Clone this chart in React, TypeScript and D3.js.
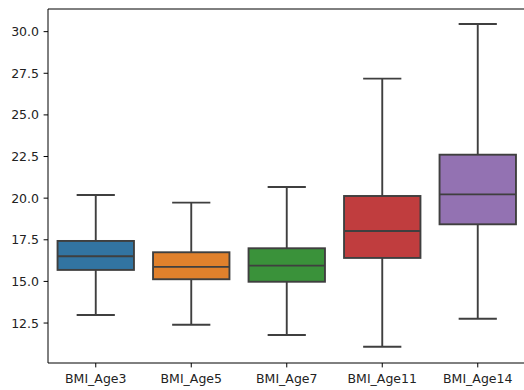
import React from "react";
import * as d3 from "d3";

const categories = ["BMI_Age3", "BMI_Age5", "BMI_Age7", "BMI_Age11", "BMI_Age14"];
const whiskerLow = [12.98, 12.4, 11.78, 11.08, 12.76];
const q1 = [15.69, 15.13, 14.98, 16.41, 18.43];
const median = [16.51, 15.87, 15.95, 18.03, 20.23];
const q3 = [17.43, 16.75, 16.99, 20.13, 22.61];
const whiskerHigh = [20.19, 19.73, 20.67, 27.18, 30.46];
const colors = ["#3274a1", "#e1812c", "#3a923a", "#c03d3e", "#9372b2"];
const yTicks = [12.5, 15.0, 17.5, 20.0, 22.5, 25.0, 27.5, 30.0];
const yDomain = [10.1, 31.36];

const W = 524;
const H = 390;
const left = 48;
const right = 525.5;
const top = 9;
const bottom = 363;
const font = "DejaVu Sans, sans-serif";
const edge = "#3f3f3f";

export default function App() {
  const x = d3.scaleBand<string>().domain(categories).range([left, right]).paddingInner(0).paddingOuter(0);
  const y = d3.scaleLinear().domain(yDomain).range([bottom, top]);
  const bw = x.bandwidth();
  const boxW = bw * 0.8;
  const capW = boxW * 0.5;
  const lw = 1.9;

  return (
    <svg
      width={W}
      height={H}
      style={{ position: "absolute", left: 0, top: 0, background: "#fff" }}
      xmlns="http://www.w3.org/2000/svg"
    >
      <rect x={0} y={0} width={W} height={H} fill="#fff" />
      {categories.map((c, i) => {
        const cx = (x(c) as number) + bw / 2;
        return (
          <g key={c}>
            <line x1={cx} x2={cx} y1={y(q3[i])} y2={y(whiskerHigh[i])} stroke={edge} strokeWidth={lw} />
            <line x1={cx} x2={cx} y1={y(q1[i])} y2={y(whiskerLow[i])} stroke={edge} strokeWidth={lw} />
            <line x1={cx - capW / 2} x2={cx + capW / 2} y1={y(whiskerHigh[i])} y2={y(whiskerHigh[i])} stroke={edge} strokeWidth={lw} />
            <line x1={cx - capW / 2} x2={cx + capW / 2} y1={y(whiskerLow[i])} y2={y(whiskerLow[i])} stroke={edge} strokeWidth={lw} />
            <rect
              x={cx - boxW / 2}
              y={y(q3[i])}
              width={boxW}
              height={y(q1[i]) - y(q3[i])}
              fill={colors[i]}
              stroke={edge}
              strokeWidth={lw}
            />
            <line x1={cx - boxW / 2} x2={cx + boxW / 2} y1={y(median[i])} y2={y(median[i])} stroke={edge} strokeWidth={lw} />
          </g>
        );
      })}
      {/* spines */}
      <line x1={left} x2={left} y1={top} y2={bottom} stroke="#000" strokeWidth={1} />
      <line x1={left} x2={right} y1={bottom} y2={bottom} stroke="#000" strokeWidth={1} />
      <line x1={left} x2={right} y1={top} y2={top} stroke="#000" strokeWidth={1} />
      <line x1={right} x2={right} y1={top} y2={bottom} stroke="#000" strokeWidth={1} />
      {/* y ticks */}
      {yTicks.map((t) => (
        <g key={t}>
          <line x1={left - 4.4} x2={left} y1={y(t)} y2={y(t)} stroke="#000" strokeWidth={1} />
          <text
            x={left - 9}
            y={y(t)}
            dy="0.36em"
            textAnchor="end"
            fontFamily={font}
            fontSize={12.5}
            fill="#222"
          >
            {d3.format(".1f")(t)}
          </text>
        </g>
      ))}
      {/* x ticks */}
      {categories.map((c) => {
        const cx = (x(c) as number) + bw / 2;
        return (
          <g key={c}>
            <line x1={cx} x2={cx} y1={bottom} y2={bottom + 4.4} stroke="#000" strokeWidth={1} />
            <text x={cx} y={383} textAnchor="middle" fontFamily={font} fontSize={12.5} fill="#222">
              {c}
            </text>
          </g>
        );
      })}
    </svg>
  );
}
